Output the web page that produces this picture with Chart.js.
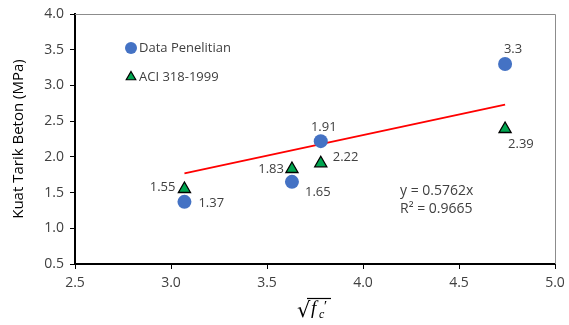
<!DOCTYPE html>
<html>
<head>
<meta charset="utf-8">
<script src="https://cdn.jsdelivr.net/npm/chart.js@4/dist/chart.umd.min.js"></script>
<style>
  html, body { margin: 0; padding: 0; background: #fff; }
  #wrap { width: 569px; height: 325px; position: relative; }
</style>
</head>
<body>
<div id="wrap"><canvas id="c" width="569" height="325"></canvas></div>
<script>
// Square root of concrete compressive strength, √fc'
const sqrtFc = [3.07, 3.63, 3.78, 4.74];
// Measured split tensile strength (MPa)
const dataPenelitian = [1.37, 1.65, 2.22, 3.3];
// ACI 318-1999 predicted tensile strength (MPa)
const aci318 = [1.55, 1.83, 1.91, 2.39];
// Value labels printed next to each mark
const labelsPenelitian = ['1.37', '1.65', '1.91', '3.3'];
const labelsAci = ['1.55', '1.83', '2.22', '2.39'];
// Linear fit through the origin of the measured data
const slope = 0.5762;
const rSquared = 0.9665;
const xTicks = [2.5, 3.0, 3.5, 4.0, 4.5, 5.0];
const yTicks = [0.5, 1.0, 1.5, 2.0, 2.5, 3.0, 3.5, 4.0];

const FONT = 'Open Sans';
const TXT = '#404040';
const BLUE = '#4472C4';
const GREEN = '#00A650';

const xMin = Math.min(...sqrtFc), xMax = Math.max(...sqrtFc);
const trend = [{x: xMin, y: slope * xMin}, {x: xMax, y: slope * xMax}];

// label offsets (px) and alignment per point
const offP = [[14, 1, 'left'], [13, 10, 'left'], [3, -14, 'center'], [8, -15, 'center']];
const offA = [[-9, -2, 'right'], [-8, 0, 'right'], [12, -6, 'left'], [3, 15, 'left']];

const extras = {
  id: 'extras',
  afterDatasetsDraw(chart) {
    const {ctx, chartArea: a, scales: {x, y}} = chart;
    ctx.save();
    // frame on top and right
    ctx.strokeStyle = '#8c8c8c';
    ctx.lineWidth = 1;
    ctx.beginPath();
    ctx.moveTo(a.left, a.top + 0.5);
    ctx.lineTo(a.right + 0.5, a.top + 0.5);
    ctx.lineTo(a.right + 0.5, a.bottom);
    ctx.stroke();

    // point value labels
    ctx.font = '13px "' + FONT + '"';
    ctx.fillStyle = TXT;
    ctx.textBaseline = 'middle';
    const put = (xs, ys, txt, off) => {
      xs.forEach((xv, i) => {
        ctx.textAlign = off[i][2];
        ctx.fillText(txt[i], x.getPixelForValue(xv) + off[i][0], y.getPixelForValue(ys[i]) + off[i][1]);
      });
    };
    put(sqrtFc, dataPenelitian, labelsPenelitian, offP);
    put(sqrtFc, aci318, labelsAci, offA);

    // trendline equation
    ctx.font = '14px "' + FONT + '"';
    ctx.textAlign = 'left';
    ctx.fillText('y = ' + slope + 'x', 400, 191);
    ctx.fillText('R² = ' + rSquared, 400, 209);

    // legend
    ctx.font = '13px "' + FONT + '"';
    const items = [
      {label: chart.data.datasets[0].label, style: 'circle', r: 6, bg: BLUE, bc: BLUE, bw: 0, y: 48},
      {label: chart.data.datasets[1].label, style: 'triangle', r: 5.5, bg: GREEN, bc: '#000', bw: 1.2, y: 77}
    ];
    items.forEach(it => {
      ctx.fillStyle = it.bg;
      ctx.strokeStyle = it.bc;
      ctx.lineWidth = it.bw;
      Chart.helpers.drawPoint(ctx, {pointStyle: it.style, radius: it.r, borderWidth: it.bw}, 131, it.y);
      ctx.fillStyle = TXT;
      ctx.textAlign = 'left';
      ctx.fillText(it.label, 139, it.y);
    });

    // x-axis title: √f'c
    ctx.fillStyle = '#000';
    ctx.strokeStyle = '#000';
    ctx.textBaseline = 'alphabetic';
    ctx.font = '21px "DejaVu Serif"';
    ctx.fillText('√', 297, 317);
    ctx.lineWidth = 1.2;
    ctx.beginPath();
    ctx.moveTo(307, 298.5);
    ctx.lineTo(331, 298.5);
    ctx.stroke();
    ctx.font = 'italic 19px "Liberation Serif"';
    ctx.fillText('f', 311, 314);
    ctx.font = 'italic 12px "Liberation Serif"';
    ctx.fillText('c', 319, 318);
    ctx.font = 'italic 15px "Liberation Serif"';
    ctx.fillText('′', 323, 311);
    ctx.restore();
  }
};

new Chart(document.getElementById('c'), {
  type: 'scatter',
  data: {
    datasets: [
      {
        label: 'Data Penelitian',
        data: sqrtFc.map((v, i) => ({x: v, y: dataPenelitian[i]})),
        pointStyle: 'circle',
        pointRadius: 7,
        backgroundColor: BLUE,
        borderColor: BLUE,
        borderWidth: 0,
        order: 2
      },
      {
        label: 'ACI 318-1999',
        data: sqrtFc.map((v, i) => ({x: v, y: aci318[i]})),
        pointStyle: 'triangle',
        pointRadius: 7,
        backgroundColor: GREEN,
        borderColor: '#000',
        borderWidth: 1.3,
        order: 1
      },
      {
        label: 'Linear',
        data: trend,
        showLine: true,
        borderColor: '#FF0000',
        borderWidth: 2,
        pointRadius: 0,
        order: 3
      }
    ]
  },
  options: {
    responsive: false,
    animation: false,
    devicePixelRatio: 1,
    layout: {padding: {left: 10, right: 14, top: 14, bottom: 0}},
    plugins: {legend: {display: false}, tooltip: {enabled: false}},
    scales: {
      x: {
        type: 'linear',
        min: 2.5, max: 5.0,
        afterBuildTicks: s => { s.ticks = xTicks.map(v => ({value: v})); },
        afterFit: s => { s.height = 61; s.paddingLeft = 0; s.paddingRight = 0; },
        ticks: {
          color: TXT,
          font: {family: FONT, size: 14},
          padding: 6,
          callback: v => v.toFixed(1)
        },
        grid: {drawOnChartArea: false, drawTicks: true, tickLength: 5, color: '#000', lineWidth: 1},
        border: {color: '#000', width: 2}
      },
      y: {
        type: 'linear',
        min: 0.5, max: 4.0,
        afterBuildTicks: s => { s.ticks = yTicks.map(v => ({value: v})); },
        afterFit: s => { s.width = 65; s.paddingTop = 0; s.paddingBottom = 0; },
        ticks: {
          color: TXT,
          font: {family: FONT, size: 14},
          padding: 6,
          callback: v => v.toFixed(1)
        },
        grid: {drawOnChartArea: false, drawTicks: true, tickLength: 5, color: '#000', lineWidth: 1},
        border: {color: '#000', width: 2},
        title: {
          display: true,
          text: 'Kuat Tarik Beton (MPa)',
          color: '#000',
          font: {family: FONT, size: 15},
          padding: {top: 0, bottom: 4}
        }
      }
    }
  },
  plugins: [extras]
});
</script>
</body>
</html>
